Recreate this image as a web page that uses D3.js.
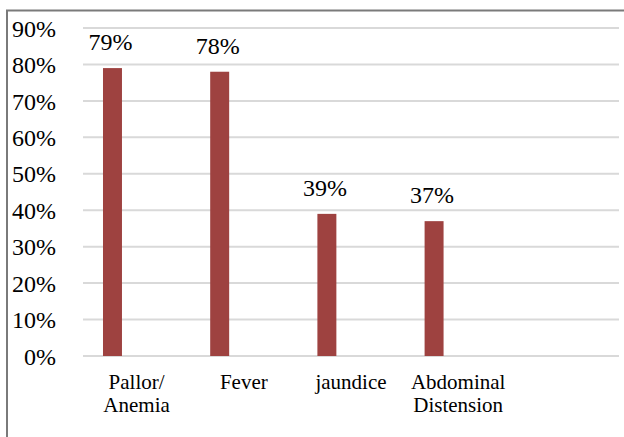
<!DOCTYPE html>
<html>
<head>
<meta charset="utf-8">
<script src="https://cdn.jsdelivr.net/npm/d3@7"></script>
<style>
  html, body { margin: 0; padding: 0; background: #fff; }
  svg { display: block; }
</style>
</head>
<body>
<svg id="chart" width="624" height="437"></svg>
<script>
// ---- data ----
const categories = ["Pallor/\nAnemia", "Fever", "jaundice", "Abdominal\nDistension", ""];
const values = [79, 78, 39, 37, null];
const valueLabels = ["79%", "78%", "39%", "37%", ""];
const yTicks = [0, 10, 20, 30, 40, 50, 60, 70, 80, 90];

// ---- layout ----
const W = 624, H = 437;
const FONT = "'Liberation Serif', 'Times New Roman', Tinos, serif";
const plot = { left: 83, right: 619, top: 28, bottom: 356 };
const barColor = "#9e4240";
const gridColor = "#d9d9d9";

const svg = d3.select("#chart").style("font-family", FONT);

// frame (top and left borders only visible)
svg.append("line").attr("x1", 6).attr("x2", W).attr("y1", 10.5).attr("y2", 10.5)
  .attr("stroke", "#7a7a7a").attr("stroke-width", 2);
svg.append("line").attr("x1", 7).attr("x2", 7).attr("y1", 10).attr("y2", H)
  .attr("stroke", "#7a7a7a").attr("stroke-width", 2);

const x = d3.scaleBand().domain(d3.range(categories.length))
  .range([plot.left, plot.right]).paddingInner(0).paddingOuter(0);
const y = d3.scaleLinear().domain([0, 90]).range([plot.bottom, plot.top]);

// gridlines
svg.append("g").selectAll("line").data(yTicks).join("line")
  .attr("x1", plot.left).attr("x2", plot.right)
  .attr("y1", d => y(d)).attr("y2", d => y(d))
  .attr("stroke", gridColor).attr("stroke-width", 2);

// y axis labels
const yAxis = d3.axisLeft(y).tickValues(yTicks).tickFormat(d => d + "%").tickSize(0).tickPadding(0);
const yg = svg.append("g").attr("transform", "translate(56,0)").call(yAxis)
  .attr("font-family", FONT).attr("font-size", 24);
yg.select(".domain").remove();
yg.selectAll("text").style("font-family", FONT).attr("font-size", 24)
  .attr("fill", "#000").attr("dy", "0.34em");

// bars (first series slot within each category)
const barW = x.bandwidth() * 0.177;
const barOffset = x.bandwidth() * 0.275;
const data = values.map((v, i) => ({ i, v, label: valueLabels[i] })).filter(d => d.v !== null);

svg.append("g").selectAll("rect").data(data).join("rect")
  .attr("x", d => x(d.i) + barOffset - barW / 2)
  .attr("width", barW)
  .attr("y", d => y(d.v))
  .attr("height", d => y(0) - y(d.v))
  .attr("fill", barColor);

// value labels
svg.append("g").selectAll("text").data(data).join("text")
  .attr("x", d => x(d.i) + barOffset - 2)
  .attr("y", d => y(d.v) - 18)
  .attr("text-anchor", "middle")
  .style("font-family", FONT)
  .attr("font-size", 24)
  .text(d => d.label);

// category labels
const cg = svg.append("g");
categories.forEach((c, i) => {
  const lines = c.split("\n");
  const t = cg.append("text")
    .attr("x", x(i) + x.bandwidth() / 2)
    .attr("y", 389)
    .attr("text-anchor", "middle")
    .style("font-family", FONT)
    .attr("font-size", 21);
  lines.forEach((ln, k) => {
    t.append("tspan").attr("x", x(i) + x.bandwidth() / 2).attr("dy", k === 0 ? 0 : 23).text(ln);
  });
});
</script>
</body>
</html>
